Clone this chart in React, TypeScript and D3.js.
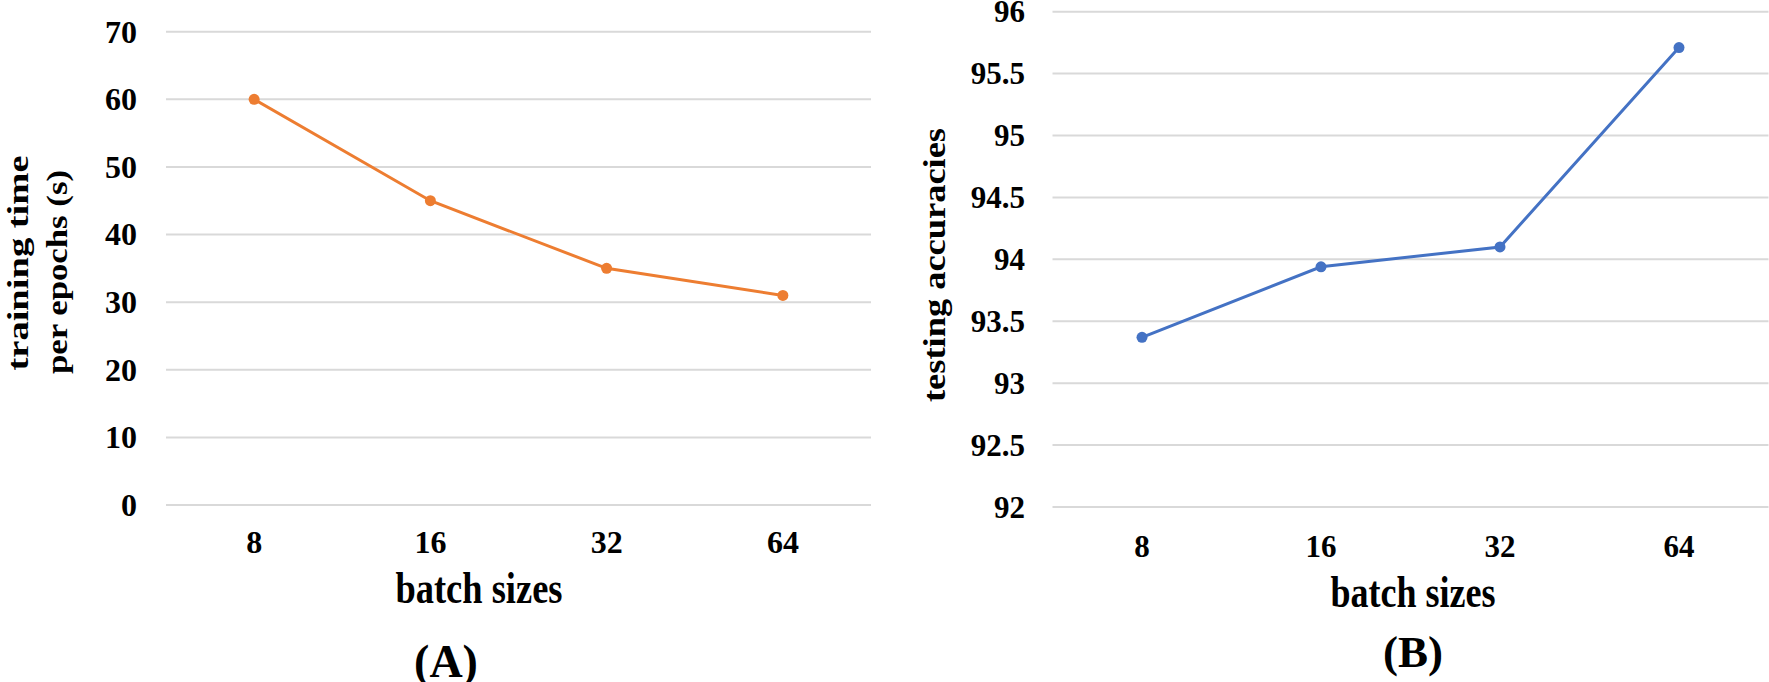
import { useEffect, useRef } from 'react'
import * as d3 from 'd3'

const batchSizes = ['8', '16', '32', '64']
const trainingTime = [60, 45, 35, 31]
const testingAccuracy = [93.37, 93.94, 94.1, 95.71]
const timeTicks = [0, 10, 20, 30, 40, 50, 60, 70]
const accuracyTicks = [92, 92.5, 93, 93.5, 94, 94.5, 95, 95.5, 96]

const WIDTH = 1769
const HEIGHT = 682
const FONT = '"Liberation Serif", "Times New Roman", serif'

interface PanelOpts {
  values: number[]
  ticks: number[]
  color: string
  xRange: [number, number]
  yRange: [number, number]
  tickRight: number
  tickSize: number
  xTickBaseline: number
  xTitle: { x: number; y: number; len: number }
  label: { text: string; x: number; y: number; size: number }
  yTitle: Array<{ text: string; x: number; y: number; len: number }>
  yTitleSize: number
}

function drawPanel(svg: d3.Selection<SVGSVGElement, unknown, null, undefined>, o: PanelOpts) {
  const x = d3.scaleBand().domain(batchSizes).range(o.xRange)
  const y = d3.scaleLinear()
    .domain([o.ticks[0], o.ticks[o.ticks.length - 1]])
    .range(o.yRange)
  const cx = (d: string) => (x(d) || 0) + x.bandwidth() / 2

  const g = svg.append('g')

  // gridlines
  g.selectAll('line.grid')
    .data(o.ticks)
    .enter()
    .append('line')
    .attr('x1', o.xRange[0])
    .attr('x2', o.xRange[1])
    .attr('y1', d => y(d))
    .attr('y2', d => y(d))
    .attr('stroke', '#d9d9d9')
    .attr('stroke-width', 2)

  // y tick labels
  g.selectAll('text.ytick')
    .data(o.ticks)
    .enter()
    .append('text')
    .attr('x', o.tickRight)
    .attr('y', d => y(d) + o.tickSize * 0.34)
    .attr('text-anchor', 'end')
    .attr('font-size', o.tickSize)
    .text(d => String(d))

  // x tick labels
  g.selectAll('text.xtick')
    .data(batchSizes)
    .enter()
    .append('text')
    .attr('x', d => cx(d))
    .attr('y', o.xTickBaseline)
    .attr('text-anchor', 'middle')
    .attr('font-size', o.tickSize)
    .text(d => d)

  // series line + markers
  const pts = batchSizes.map((b, i) => [cx(b), y(o.values[i])] as [number, number])
  g.append('path')
    .attr('d', d3.line()(pts))
    .attr('fill', 'none')
    .attr('stroke', o.color)
    .attr('stroke-width', 3)

  g.selectAll('circle')
    .data(pts)
    .enter()
    .append('circle')
    .attr('cx', d => d[0])
    .attr('cy', d => d[1])
    .attr('r', 5.5)
    .attr('fill', o.color)

  // axis titles
  g.append('text')
    .attr('x', o.xTitle.x)
    .attr('y', o.xTitle.y)
    .attr('text-anchor', 'middle')
    .attr('font-size', 44)
    .attr('textLength', o.xTitle.len)
    .attr('lengthAdjust', 'spacingAndGlyphs')
    .text('batch sizes')

  o.yTitle.forEach(t => {
    g.append('text')
      .attr('transform', `translate(${t.x},${t.y}) rotate(-90)`)
      .attr('text-anchor', 'middle')
      .attr('font-size', o.yTitleSize)
      .attr('textLength', t.len)
      .attr('lengthAdjust', 'spacingAndGlyphs')
      .text(t.text)
  })

  g.append('text')
    .attr('x', o.label.x)
    .attr('y', o.label.y)
    .attr('text-anchor', 'middle')
    .attr('font-size', o.label.size)
    .text(o.label.text)
}

export default function App() {
  const svgRef = useRef<SVGSVGElement>(null)

  useEffect(() => {
    if (!svgRef.current) return
    const svg = d3.select(svgRef.current)
    svg.selectAll('*').remove()

    drawPanel(svg, {
      values: trainingTime,
      ticks: timeTicks,
      color: '#ED7D31',
      xRange: [166, 871],
      yRange: [505, 31.7],
      tickRight: 137,
      tickSize: 32,
      xTickBaseline: 553,
      xTitle: { x: 479, y: 603, len: 167 },
      label: { text: '(A)', x: 446, y: 677, size: 46 },
      yTitle: [
        { text: 'training time', x: 28, y: 263, len: 215 },
        { text: 'per epochs (s)', x: 67, y: 272, len: 204 }
      ],
      yTitleSize: 30
    })

    drawPanel(svg, {
      values: testingAccuracy,
      ticks: accuracyTicks,
      color: '#4472C4',
      xRange: [1052.5, 1768.5],
      yRange: [507, 11.7],
      tickRight: 1025,
      tickSize: 31,
      xTickBaseline: 557,
      xTitle: { x: 1413, y: 607, len: 165 },
      label: { text: '(B)', x: 1413, y: 667, size: 45 },
      yTitle: [
        { text: 'testing accuracies', x: 945, y: 265, len: 274 }
      ],
      yTitleSize: 31
    })
  }, [])

  return (
    <div style={{ position: 'absolute', left: 0, top: 0 }}>
      <svg
        ref={svgRef}
        width={WIDTH}
        height={HEIGHT}
        style={{ display: 'block', background: '#fff', fontFamily: FONT, fontWeight: 'bold' }}
      />
    </div>
  )
}
